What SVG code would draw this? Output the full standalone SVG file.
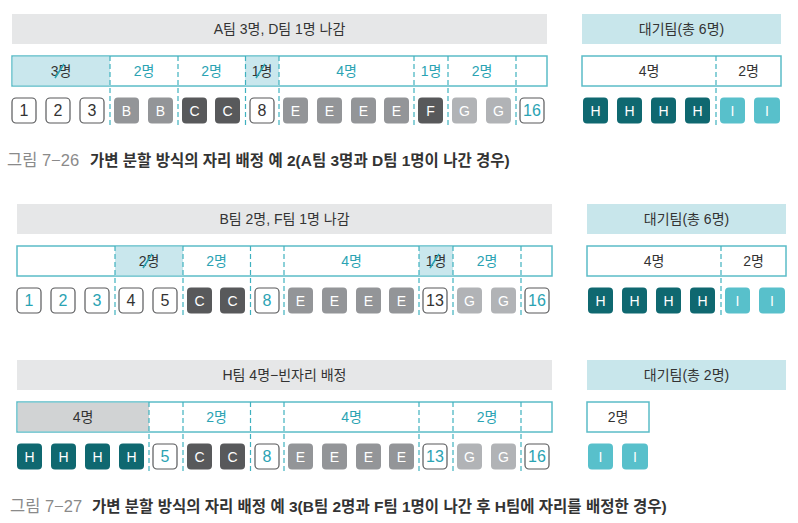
<svg xmlns="http://www.w3.org/2000/svg" width="798" height="523" viewBox="0 0 798 523">
<style>
text{font-family:"Liberation Sans","Noto Sans CJK KR",sans-serif;font-size:14px;text-anchor:middle;dominant-baseline:central}
.n{font-size:16px}
.hdr{fill:#e6e7e8}
.hdt{fill:#c8e6eb}
.box{fill:#fff;stroke:#5bbcc7;stroke-width:1.5}
.hl{fill:#c9e7ed}
.hg{fill:#d1d3d4}
.dv{stroke:#3fb1bf;stroke-width:1.2;stroke-dasharray:5 3;fill:none}
.x{stroke:#2aa3b3;stroke-width:1.6;fill:none}
.k{fill:#333}
.t{fill:#2aa3b3}
.w{fill:#fff}
.cw{fill:#fff;stroke:#58595b;stroke-width:1.2}
.cg{fill:#939598}
.cd{fill:#58595b}
.cl{fill:#b1b3b6}
.ch{fill:#0f6870}
.ci{fill:#58c0cb}
.cap{font-size:15.5px;text-anchor:start;dominant-baseline:auto}
.capn{fill:#8a8a8a;font-size:16.5px}
.capb{fill:#333;font-weight:bold}
</style>

<!-- ===== Section 1 ===== -->
<g id="s1-header"><rect class="hdr" x="12" y="14" width="535" height="30"/><text class="k" x="279.5" y="29">A팀 3명, D팀 1명 나감</text></g>
<g id="s1-wait-header"><rect class="hdt" x="582" y="14" width="199" height="30"/><text class="k" x="681.5" y="29">대기팀(총 6명)</text></g>
<g id="s1-row">
<rect class="box" x="12" y="56" width="535" height="30"/>
<rect class="hl" x="12.75" y="56.75" width="97.25" height="28.5"/>
<rect class="hl" x="245" y="56.75" width="34" height="28.5"/>
<text class="k" x="61" y="71">3명</text>
<text class="t" x="144" y="71">2명</text>
<text class="t" x="211.5" y="71">2명</text>
<text class="k" x="262" y="71">1명</text>
<text class="t" x="346.5" y="71">4명</text>
<text class="t" x="431" y="71">1명</text>
<text class="t" x="482" y="71">2명</text>
<path class="x" d="M55 78L64 64M256 78L265 64"/>
</g>
<g id="s1-wait-row"><rect class="box" x="582" y="56" width="199" height="30"/><text class="k" x="649" y="71">4명</text><text class="k" x="748.5" y="71">2명</text></g>
<g id="s1-chips">
<g id="s1-c1"><rect class="cw" x="12" y="98" width="24" height="25" rx="4"/><text class="k n" x="24" y="110.5">1</text></g>
<g id="s1-c2"><rect class="cw" x="46" y="98" width="24" height="25" rx="4"/><text class="k n" x="58" y="110.5">2</text></g>
<g id="s1-c3"><rect class="cw" x="80" y="98" width="24" height="25" rx="4"/><text class="k n" x="92" y="110.5">3</text></g>
<g id="s1-c4"><rect class="cg" x="114" y="97.5" width="25" height="26" rx="4"/><text class="w" x="126.5" y="110.5">B</text></g>
<g id="s1-c5"><rect class="cg" x="148" y="97.5" width="25" height="26" rx="4"/><text class="w" x="160.5" y="110.5">B</text></g>
<g id="s1-c6"><rect class="cd" x="182" y="97.5" width="25" height="26" rx="4"/><text class="w" x="194.5" y="110.5">C</text></g>
<g id="s1-c7"><rect class="cd" x="215" y="97.5" width="25" height="26" rx="4"/><text class="w" x="227.5" y="110.5">C</text></g>
<g id="s1-c8"><rect class="cw" x="250" y="98" width="24" height="25" rx="4"/><text class="k n" x="262" y="110.5">8</text></g>
<g id="s1-c9"><rect class="cg" x="283" y="97.5" width="25" height="26" rx="4"/><text class="w" x="295.5" y="110.5">E</text></g>
<g id="s1-c10"><rect class="cg" x="317" y="97.5" width="25" height="26" rx="4"/><text class="w" x="329.5" y="110.5">E</text></g>
<g id="s1-c11"><rect class="cg" x="351" y="97.5" width="25" height="26" rx="4"/><text class="w" x="363.5" y="110.5">E</text></g>
<g id="s1-c12"><rect class="cg" x="384" y="97.5" width="25" height="26" rx="4"/><text class="w" x="396.5" y="110.5">E</text></g>
<g id="s1-c13"><rect class="cd" x="418" y="97.5" width="25" height="26" rx="4"/><text class="w" x="430.5" y="110.5">F</text></g>
<g id="s1-c14"><rect class="cl" x="452" y="97.5" width="25" height="26" rx="4"/><text class="w" x="464.5" y="110.5">G</text></g>
<g id="s1-c15"><rect class="cl" x="486" y="97.5" width="25" height="26" rx="4"/><text class="w" x="498.5" y="110.5">G</text></g>
<g id="s1-c16"><rect class="cw" x="520" y="98" width="24" height="25" rx="4"/><text class="t n" x="532" y="110.5">16</text></g>
</g>
<g id="s1-wait-chips">
<g id="s1-h1"><rect class="ch" x="583" y="97.5" width="25" height="26" rx="4"/><text class="w" x="595.5" y="110.5">H</text></g>
<g id="s1-h2"><rect class="ch" x="617" y="97.5" width="25" height="26" rx="4"/><text class="w" x="629.5" y="110.5">H</text></g>
<g id="s1-h3"><rect class="ch" x="651" y="97.5" width="25" height="26" rx="4"/><text class="w" x="663.5" y="110.5">H</text></g>
<g id="s1-h4"><rect class="ch" x="685" y="97.5" width="25" height="26" rx="4"/><text class="w" x="697.5" y="110.5">H</text></g>
<g id="s1-i1"><rect class="ci" x="720" y="97.5" width="25" height="26" rx="4"/><text class="w" x="732.5" y="110.5">I</text></g>
<g id="s1-i2"><rect class="ci" x="754" y="97.5" width="26" height="26" rx="4"/><text class="w" x="767" y="110.5">I</text></g>
</g>

<!-- ===== Section 2 ===== -->
<g id="s2-header"><rect class="hdr" x="17" y="204" width="535" height="30"/><text class="k" x="284.5" y="219">B팀 2명, F팀 1명 나감</text></g>
<g id="s2-wait-header"><rect class="hdt" x="587" y="204" width="199" height="30"/><text class="k" x="686.5" y="219">대기팀(총 6명)</text></g>
<g id="s2-row">
<rect class="box" x="17" y="246" width="535" height="30"/>
<rect class="hl" x="115" y="246.75" width="68" height="28.5"/>
<rect class="hl" x="419" y="246.75" width="34" height="28.5"/>
<text class="k" x="149" y="261">2명</text>
<text class="t" x="216.5" y="261">2명</text>
<text class="t" x="351.5" y="261">4명</text>
<text class="k" x="436" y="261">1명</text>
<text class="t" x="487" y="261">2명</text>
<path class="x" d="M143 268L152 254M430 268L439 254"/>
</g>
<g id="s2-wait-row"><rect class="box" x="587" y="246" width="199" height="30"/><text class="k" x="654" y="261">4명</text><text class="k" x="753.5" y="261">2명</text></g>
<g id="s2-chips">
<g id="s2-c1"><rect class="cw" x="17" y="288" width="24" height="25" rx="4"/><text class="t n" x="29" y="300.5">1</text></g>
<g id="s2-c2"><rect class="cw" x="51" y="288" width="24" height="25" rx="4"/><text class="t n" x="63" y="300.5">2</text></g>
<g id="s2-c3"><rect class="cw" x="85" y="288" width="24" height="25" rx="4"/><text class="t n" x="97" y="300.5">3</text></g>
<g id="s2-c4"><rect class="cw" x="119" y="288" width="24" height="25" rx="4"/><text class="k n" x="131" y="300.5">4</text></g>
<g id="s2-c5"><rect class="cw" x="153" y="288" width="24" height="25" rx="4"/><text class="k n" x="165" y="300.5">5</text></g>
<g id="s2-c6"><rect class="cd" x="187" y="287.5" width="25" height="26" rx="4"/><text class="w" x="199.5" y="300.5">C</text></g>
<g id="s2-c7"><rect class="cd" x="220" y="287.5" width="25" height="26" rx="4"/><text class="w" x="232.5" y="300.5">C</text></g>
<g id="s2-c8"><rect class="cw" x="255" y="288" width="24" height="25" rx="4"/><text class="t n" x="267" y="300.5">8</text></g>
<g id="s2-c9"><rect class="cg" x="288" y="287.5" width="25" height="26" rx="4"/><text class="w" x="300.5" y="300.5">E</text></g>
<g id="s2-c10"><rect class="cg" x="322" y="287.5" width="25" height="26" rx="4"/><text class="w" x="334.5" y="300.5">E</text></g>
<g id="s2-c11"><rect class="cg" x="356" y="287.5" width="25" height="26" rx="4"/><text class="w" x="368.5" y="300.5">E</text></g>
<g id="s2-c12"><rect class="cg" x="389" y="287.5" width="25" height="26" rx="4"/><text class="w" x="401.5" y="300.5">E</text></g>
<g id="s2-c13"><rect class="cw" x="423" y="288" width="24" height="25" rx="4"/><text class="k n" x="435" y="300.5">13</text></g>
<g id="s2-c14"><rect class="cl" x="457" y="287.5" width="25" height="26" rx="4"/><text class="w" x="469.5" y="300.5">G</text></g>
<g id="s2-c15"><rect class="cl" x="491" y="287.5" width="25" height="26" rx="4"/><text class="w" x="503.5" y="300.5">G</text></g>
<g id="s2-c16"><rect class="cw" x="525" y="288" width="24" height="25" rx="4"/><text class="t n" x="537" y="300.5">16</text></g>
</g>
<g id="s2-wait-chips">
<g id="s2-h1"><rect class="ch" x="588" y="287.5" width="25" height="26" rx="4"/><text class="w" x="600.5" y="300.5">H</text></g>
<g id="s2-h2"><rect class="ch" x="622" y="287.5" width="25" height="26" rx="4"/><text class="w" x="634.5" y="300.5">H</text></g>
<g id="s2-h3"><rect class="ch" x="656" y="287.5" width="25" height="26" rx="4"/><text class="w" x="668.5" y="300.5">H</text></g>
<g id="s2-h4"><rect class="ch" x="690" y="287.5" width="25" height="26" rx="4"/><text class="w" x="702.5" y="300.5">H</text></g>
<g id="s2-i1"><rect class="ci" x="725" y="287.5" width="25" height="26" rx="4"/><text class="w" x="737.5" y="300.5">I</text></g>
<g id="s2-i2"><rect class="ci" x="759" y="287.5" width="26" height="26" rx="4"/><text class="w" x="772" y="300.5">I</text></g>
</g>

<!-- ===== Section 3 ===== -->
<g id="s3-header"><rect class="hdr" x="17" y="360" width="535" height="30"/><text class="k" x="284.5" y="375">H팀 4명−빈자리 배정</text></g>
<g id="s3-wait-header"><rect class="hdt" x="587" y="360" width="199" height="30"/><text class="k" x="686.5" y="375">대기팀(총 2명)</text></g>
<g id="s3-row">
<rect class="box" x="17" y="402" width="535" height="30"/>
<rect class="hg" x="17.75" y="402.75" width="131.25" height="28.5"/>
<text class="k" x="83" y="417">4명</text>
<text class="t" x="216.5" y="417">2명</text>
<text class="t" x="351.5" y="417">4명</text>
<text class="t" x="487" y="417">2명</text>
</g>
<g id="s3-wait-row"><rect class="box" x="587" y="402" width="62" height="30"/><text class="k" x="618" y="417">2명</text></g>
<g id="s3-chips">
<g id="s3-c1"><rect class="ch" x="17" y="443.5" width="25" height="26" rx="4"/><text class="w" x="29.5" y="456.5">H</text></g>
<g id="s3-c2"><rect class="ch" x="51" y="443.5" width="25" height="26" rx="4"/><text class="w" x="63.5" y="456.5">H</text></g>
<g id="s3-c3"><rect class="ch" x="85" y="443.5" width="25" height="26" rx="4"/><text class="w" x="97.5" y="456.5">H</text></g>
<g id="s3-c4"><rect class="ch" x="119" y="443.5" width="25" height="26" rx="4"/><text class="w" x="131.5" y="456.5">H</text></g>
<g id="s3-c5"><rect class="cw" x="153" y="444" width="24" height="25" rx="4"/><text class="t n" x="165" y="456.5">5</text></g>
<g id="s3-c6"><rect class="cd" x="187" y="443.5" width="25" height="26" rx="4"/><text class="w" x="199.5" y="456.5">C</text></g>
<g id="s3-c7"><rect class="cd" x="220" y="443.5" width="25" height="26" rx="4"/><text class="w" x="232.5" y="456.5">C</text></g>
<g id="s3-c8"><rect class="cw" x="255" y="444" width="24" height="25" rx="4"/><text class="t n" x="267" y="456.5">8</text></g>
<g id="s3-c9"><rect class="cg" x="288" y="443.5" width="25" height="26" rx="4"/><text class="w" x="300.5" y="456.5">E</text></g>
<g id="s3-c10"><rect class="cg" x="322" y="443.5" width="25" height="26" rx="4"/><text class="w" x="334.5" y="456.5">E</text></g>
<g id="s3-c11"><rect class="cg" x="356" y="443.5" width="25" height="26" rx="4"/><text class="w" x="368.5" y="456.5">E</text></g>
<g id="s3-c12"><rect class="cg" x="389" y="443.5" width="25" height="26" rx="4"/><text class="w" x="401.5" y="456.5">E</text></g>
<g id="s3-c13"><rect class="cw" x="423" y="444" width="24" height="25" rx="4"/><text class="t n" x="435" y="456.5">13</text></g>
<g id="s3-c14"><rect class="cl" x="457" y="443.5" width="25" height="26" rx="4"/><text class="w" x="469.5" y="456.5">G</text></g>
<g id="s3-c15"><rect class="cl" x="491" y="443.5" width="25" height="26" rx="4"/><text class="w" x="503.5" y="456.5">G</text></g>
<g id="s3-c16"><rect class="cw" x="525" y="444" width="24" height="25" rx="4"/><text class="t n" x="537" y="456.5">16</text></g>
</g>
<g id="s3-wait-chips">
<g id="s3-i1"><rect class="ci" x="588" y="443.5" width="25" height="26" rx="4"/><text class="w" x="600.5" y="456.5">I</text></g>
<g id="s3-i2"><rect class="ci" x="622" y="443.5" width="26" height="26" rx="4"/><text class="w" x="635" y="456.5">I</text></g>
</g>

<!-- ===== dashed dividers ===== -->
<g id="connectors">
<path class="dv" d="M110 56V126M178 56V126M245.5 56V126M279 56V126M414 56V126M448 56V126M516 56V126M716 56V126"/>
<path class="dv" d="M115 246V316M183 246V316M250.5 246V316M284 246V316M419 246V316M453 246V316M521 246V316M721 246V316"/>
<path class="dv" d="M149 402V472M183 402V472M250.5 402V472M284 402V472M419 402V472M453 402V472M521 402V472"/>
</g>

<!-- captions -->
<g id="caption1"><text class="cap" x="7" y="166"><tspan class="capn">그림 7−26</tspan><tspan class="capb" x="90">가변 분할 방식의 자리 배정 예 2(A팀 3명과 D팀 1명이 나간 경우)</tspan></text></g>
<g id="caption2"><text class="cap" x="10" y="512"><tspan class="capn">그림 7−27</tspan><tspan class="capb" x="92">가변 분할 방식의 자리 배정 예 3(B팀 2명과 F팀 1명이 나간 후 H팀에 자리를 배정한 경우)</tspan></text></g>
</svg>
